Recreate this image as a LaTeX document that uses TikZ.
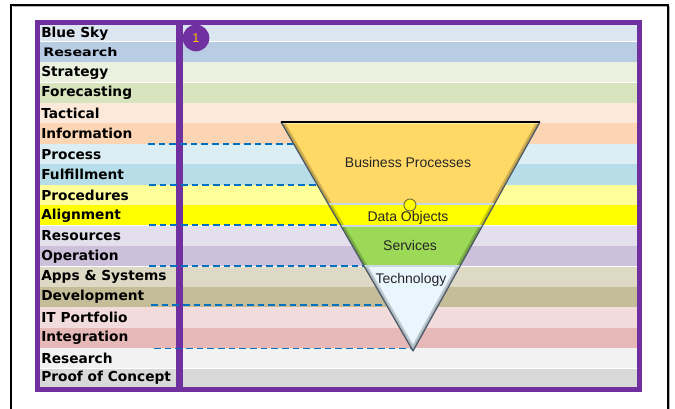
\documentclass[tikz,border=0pt]{standalone}
\usepackage{fontspec}
\setmainfont{Liberation Sans}
\newfontfamily\lblfont{DejaVu Sans}
\usetikzlibrary{calc}
\definecolor{purp}{HTML}{7030A0}
\definecolor{dashblue}{HTML}{0070C0}
\definecolor{rA}{HTML}{DCE6F1}
\definecolor{rB}{HTML}{B8CCE4}
\definecolor{rC}{HTML}{EBF1DE}
\definecolor{rD}{HTML}{D7E4BD}
\definecolor{rE}{HTML}{FDE9D9}
\definecolor{rF}{HTML}{FCD5B4}
\definecolor{rG}{HTML}{DAEEF3}
\definecolor{rH}{HTML}{B7DEE8}
\definecolor{rI}{HTML}{FFFF99}
\definecolor{rJ}{HTML}{FFFF00}
\definecolor{rK}{HTML}{E4DFEC}
\definecolor{rL}{HTML}{CCC0DA}
\definecolor{rM}{HTML}{DDD9C4}
\definecolor{rN}{HTML}{C4BD97}
\definecolor{rO}{HTML}{F2DCDB}
\definecolor{rP}{HTML}{E6B8B7}
\definecolor{rQ}{HTML}{F2F2F2}
\definecolor{rR}{HTML}{D9D9D9}
\definecolor{bizfill}{HTML}{FFD966}
\definecolor{datafill}{HTML}{FFFF00}
\definecolor{svcfill}{HTML}{9BD957}
\definecolor{techfill}{HTML}{EAF6FE}
\definecolor{edgegray}{HTML}{4A5868}
\definecolor{txtgray}{HTML}{262626}
\tikzset{
  lbl/.style={anchor=west, inner sep=0pt, font=\lblfont\bfseries\fontsize{10.3pt}{12pt}\selectfont, text=black},
  dashconn/.style={draw=dashblue, line width=1.3pt, dash pattern=on 5pt off 3pt},
  section/.style={draw={rgb,255:red,200;green,215;blue,225}, line width=1.2pt},
  tritext/.style={font=\fontsize{10.5pt}{12pt}\selectfont, text=txtgray, inner sep=0pt},
}
\begin{document}
\begin{tikzpicture}[x=0.75pt,y=-0.75pt]
\useasboundingbox (0,0) rectangle (675,409);
\fill[white] (0,0) rectangle (675,409);
% outer frame
\draw[gray!60, line width=0.9pt] (12.5,6.5) -- (669.5,6.5) -- (669.5,430);
\draw[black, line width=1.3pt] (11,430) -- (11,5) -- (668,5) -- (668,430);
% rows
\foreach \ytop/\ybot/\col in {25/41.7/rA, 41.7/62.3/rB, 62.3/82.7/rC, 82.7/103/rD, 103/123.3/rE, 123.3/144/rF, 144/164.3/rG, 164.3/185/rH, 185/205.3/rI, 205.3/225.7/rJ, 225.7/246.3/rK, 246.3/266.7/rL, 266.7/287/rM, 287/307.3/rN, 307.3/328/rO, 328/348.3/rP, 348.3/368.7/rQ, 368.7/387/rR}
  {\fill[\col] (40,\ytop) rectangle (637,\ybot);
   \draw[white, line width=0.5pt] (40,\ybot) -- (637,\ybot);}
% labels
\node[lbl] (l1) at (41,33.4) {Blue Sky};
\node[lbl, font=\lblfont\bfseries\fontsize{8.8pt}{10pt}\selectfont] (l2) at (43,52) {\scalebox{1.22}[1]{Research}};
\node[lbl] (l3) at (41,72.5) {Strategy};
\node[lbl] (l4) at (41,92.9) {Forecasting};
\node[lbl] (l5) at (41,113.2) {Tactical};
\node[lbl] (l6) at (41,133.6) {Information};
\node[lbl] (l7) at (41,154.2) {Process};
\node[lbl] (l8) at (41,174.6) {Fulfillment};
\node[lbl] (l9) at (41,195.1) {Procedures};
\node[lbl] (l10) at (41,215.5) {Alignment};
\node[lbl] (l11) at (41,236) {Resources};
\node[lbl] (l12) at (41,256.5) {Operation};
\node[lbl] (l13) at (41,276.9) {Apps \& Systems};
\node[lbl] (l14) at (41,297.2) {Development};
\node[lbl] (l15) at (41,317.6) {IT Portfolio};
\node[lbl] (l16) at (41,338.2) {Integration};
\node[lbl] (l17) at (41,358.5) {Research};
\node[lbl] (l18) at (41,377.9) {Proof of Concept};
% purple frame and separator
\draw[purp, line width=3.75pt] (37.5,22.5) rectangle (639.5,389.5);
\draw[purp, line width=4.9pt] (179.6,22.5) -- (179.6,389.5);
% badge
\node[circle, fill=purp, minimum size=20pt, inner sep=0pt, text={rgb,255:red,255;green,192;blue,0}, font=\fontsize{9.5pt}{11pt}\selectfont] (badge) at (196,38) {1};
% triangle geometry
\coordinate (TL) at (281,122);
\coordinate (TR) at (540,122);
\coordinate (A) at (413,351);
\coordinate (L1) at ($(TL)!0.358!(A)$);
\coordinate (R1) at ($(TR)!0.358!(A)$);
\coordinate (L2) at ($(TL)!0.4541!(A)$);
\coordinate (R2) at ($(TR)!0.4541!(A)$);
\coordinate (L3) at ($(TL)!0.6288!(A)$);
\coordinate (R3) at ($(TR)!0.6288!(A)$);
% dashed connectors
\coordinate (d1s) at (148,144);   \coordinate (d1e) at ($(TL)!0.0961!(A)$);
\coordinate (d2s) at (149,184.7); \coordinate (d2e) at ($(TL)!0.2738!(A)$);
\coordinate (d3s) at (149,225);   \coordinate (d3e) at ($(TL)!0.4498!(A)$);
\coordinate (d4s) at (149,266);   \coordinate (d4e) at ($(TL)!0.6288!(A)$);
\coordinate (d5s) at (151,305);   \coordinate (d5e) at ($(TL)!0.7991!(A)$);
\coordinate (d6s) at (154,348.5); \coordinate (d6e) at ($(TL)!0.9891!(A)$);
\foreach \k in {1,...,6} {\draw[dashconn] (d\k s) -- (d\k e|-d\k s);}
% triangle sections
\fill[bizfill] (TL) -- (TR) -- (R1) -- (L1) -- cycle;
\fill[datafill] (L1) -- (R1) -- (R2) -- (L2) -- cycle;
\fill[svcfill] (L2) -- (R2) -- (R3) -- (L3) -- cycle;
\fill[techfill] (L3) -- (R3) -- (A) -- cycle;
% bevel shading
\begin{scope}
  \clip (TL) -- (TR) -- (A) -- cycle;
  \draw[black, opacity=0.18, line width=5pt] (TL) -- (A) -- (TR);
  \draw[black, opacity=0.12, line width=2.5pt] (TL) -- (A) -- (TR);
  \draw[white, opacity=0.45, line width=3pt] (TL) -- (TR);
  \draw[section] (L1) -- (R1);
  \draw[section] (L2) -- (R2);
  \draw[section] (L3) -- (R3);
\end{scope}
\draw[edgegray, line width=0.9pt, line join=round] (TL) -- (A) -- (TR);
\draw[black, line width=1.2pt] (TL) -- (TR);
% texts
\node[tritext] (biz) at (408,162) {Business Processes};
\node[tritext] (data) at (408,217.5) {Data Objects};
\node[tritext] (svc) at (410,245) {Services};
\node[tritext] (tech) at (411,280) {Technology};
\node[circle, fill=datafill, draw={rgb,255:red,110;green,110;blue,60}, line width=0.7pt, minimum size=9pt, inner sep=0pt] (dot) at (410,205) {};
\end{tikzpicture}
\end{document}
